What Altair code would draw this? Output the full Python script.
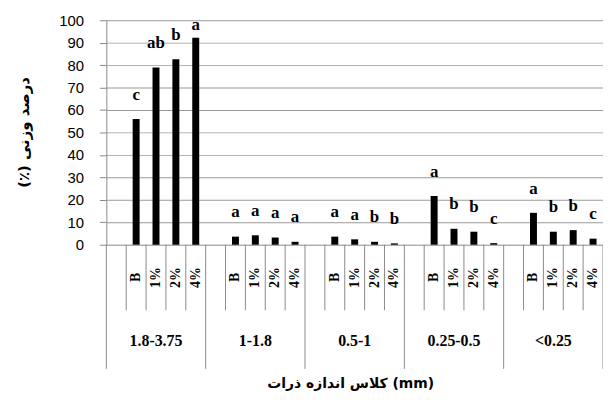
import altair as alt
import pandas as pd

groups = ["1.8-3.75", "1-1.8", "0.5-1", "0.25-0.5", "<0.25"]
treatments = ["B", "1%", "2%", "4%"]
values = [
    [56.0, 78.9, 82.6, 92.2],
    [3.6, 4.2, 3.2, 1.3],
    [3.6, 2.4, 1.3, 0.6],
    [21.7, 7.1, 5.8, 0.7],
    [14.2, 5.8, 6.5, 2.7],
]
letters = [
    ["c", "ab", "b", "a"],
    ["a", "a", "a", "a"],
    ["a", "a", "b", "b"],
    ["a", "b", "b", "c"],
    ["a", "b", "b", "c"],
]
y_ticks = list(range(0, 101, 10))
y_title = "(٪) درصد وزنی"
x_title = "کلاس اندازه ذرات (mm)"

slot_order = []
rows = []
blank_rows = []
for gi, g in enumerate(groups):
    blank = f"{gi}|"
    slot_order.append(blank)
    blank_rows.append({"slot": blank, "group": g})
    for ti, t in enumerate(treatments):
        s = f"{gi}|{t}"
        slot_order.append(s)
        rows.append({"slot": s, "group": g, "treatment": t,
                     "value": values[gi][ti], "letter": letters[gi][ti]})
df = pd.DataFrame(rows)
blank_df = pd.DataFrame(blank_rows)
center_df = df[df["treatment"] == "1%"]
last_df = df.tail(1)
grid_df = pd.DataFrame({"v": y_ticks[1:]})

GRAY = "#8a8a8a"
W, H = 500, 226

xscale = alt.Scale(domain=slot_order, paddingInner=0, paddingOuter=0)
yscale = alt.Scale(domain=[0, 100], nice=False)


def X(**kw):
    return alt.X("slot:N", scale=xscale, sort=slot_order, title=None, **kw)


grid = alt.Chart(grid_df).transform_calculate(
    v2="datum.v - 0.4"
).mark_rect(color="#9a9a9a", opacity=1).encode(
    y=alt.Y("v:Q", scale=yscale, title=None),
    y2="v2:Q",
    x=alt.value(0), x2=alt.value(W),
)

bars = alt.Chart(df).mark_bar(width=7, color="black").encode(
    x=X(),
    y=alt.Y("value:Q", scale=yscale, title=None),
)

letters_layer = alt.Chart(df).transform_calculate(
    ly="min(datum.value + 8.6, 95.8)"
).mark_text(font="Liberation Serif", fontWeight="bold", fontSize=17,
            baseline="alphabetic", align="center", color="black").encode(
    x=X(),
    y=alt.Y("ly:Q", scale=yscale, title=None),
    text="letter:N",
)

short_rules = alt.Chart(df).mark_rule(color=GRAY, strokeWidth=1).encode(
    x=X(bandPosition=0),
    y=alt.value(H), y2=alt.value(H + 66),
)
long_rules = alt.Chart(blank_df).mark_rule(color=GRAY, strokeWidth=1).encode(
    x=X(bandPosition=0),
    y=alt.value(H), y2=alt.value(H + 125),
)
end_rule = alt.Chart(last_df).mark_rule(color=GRAY, strokeWidth=1).encode(
    x=X(bandPosition=1),
    y=alt.value(H), y2=alt.value(H + 125),
)

inner_labels = alt.Chart(df).mark_text(font="Liberation Serif", fontWeight="bold",
                                       fontSize=14, angle=270, align="center",
                                       baseline="middle", color="black").encode(
    x=X(),
    y=alt.value(H + 33),
    text="treatment:N",
)

group_labels = alt.Chart(center_df).mark_text(font="Liberation Serif", fontWeight="bold",
                                              fontSize=16, align="center",
                                              baseline="middle", color="black").encode(
    x=X(),
    y=alt.value(H + 97),
    text="group:N",
)

xt = alt.Chart(pd.DataFrame({"t": [x_title]})).mark_text(
    font="DejaVu Sans", fontWeight="bold", fontSize=14, align="center",
    baseline="middle", color="black").encode(
    x=alt.value(246), y=alt.value(H + 140), text="t:N")

yt = alt.Chart(pd.DataFrame({"t": [y_title]})).mark_text(
    font="DejaVu Sans", fontWeight="bold", fontSize=15, angle=270, align="center",
    baseline="middle", color="black").encode(
    x=alt.value(-83), y=alt.value(113), text="t:N")

chart = alt.layer(grid, bars, letters_layer, short_rules, long_rules, end_rule,
                  inner_labels, group_labels, xt, yt).properties(
    width=W, height=H,
    autosize=alt.AutoSizeParams(type="none"),
    padding={"left": 99, "top": 11, "right": 0, "bottom": 153},
    background="white",
).configure_view(stroke=None).configure_axisY(
    tickCount=len(y_ticks) - 1, labelFont="Liberation Sans", labelFontSize=15,
    labelColor="black", tickSize=7, tickColor=GRAY, domainColor=GRAY,
    labelPadding=16, labelOverlap=False, grid=False,
).configure_axisX(
    labels=False, ticks=False, grid=False, domainColor=GRAY, domainWidth=1,
)

chart.save("out.html", embed_options={"renderer": "svg", "actions": False})
